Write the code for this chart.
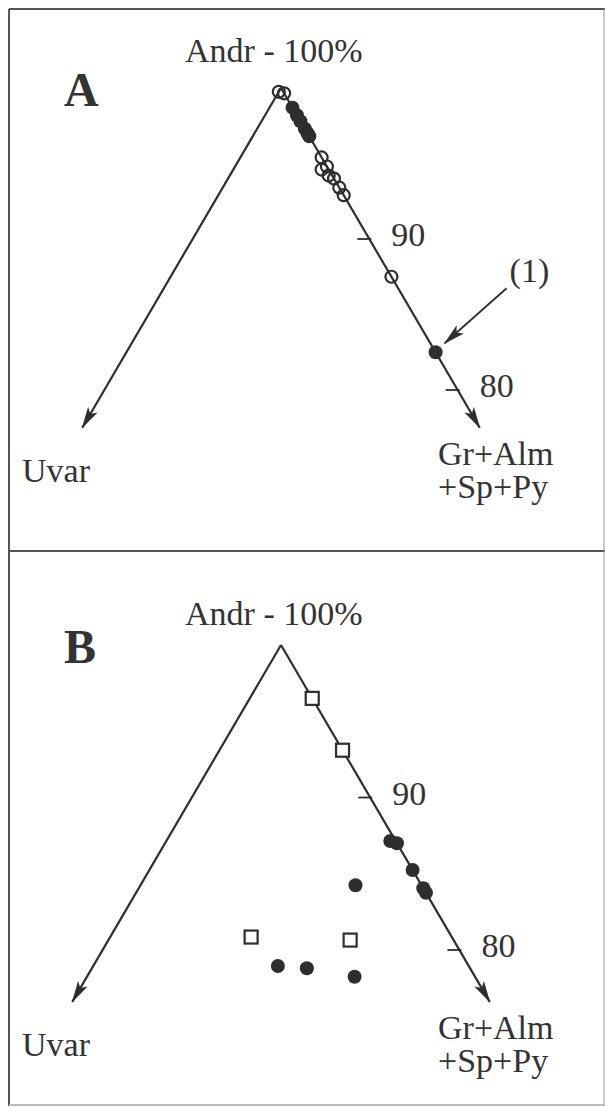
<!DOCTYPE html>
<html>
<head>
<meta charset="utf-8">
<script src="https://cdn.jsdelivr.net/npm/d3@7"></script>
<style>
  body { margin: 0; background: #fff; }
  svg text { font-family: 'Liberation Serif', 'Times New Roman', serif; fill: #333; }
</style>
</head>
<body>
<div id="wrapper"></div>
<script>
// each point: [Andr %, Uvar %]; Gr+Alm+Sp+Py is the rest up to 100
const panelAOpen = [
  [99.75, 0.25], [99.65, 0],
  [95.4, 0], [94.6, 0.4], [94.8, 0], [94.2, 0.2], [94.0, 0],
  [93.4, 0], [92.9, 0], [87.5, 0],
];
const panelAFilled = [
  [98.7, 0], [98.2, 0], [97.8, 0], [97.3, 0], [97.0, 0], [96.8, 0], [82.5, 0],
];
const panelBSquares = [
  [96.5, 0], [93.1, 0], [80.85, 11.25], [80.65, 5.8],
];
const panelBFilled = [
  [87.15, 0.3], [87.0, 0], [85.25, 0], [84.05, 0], [83.75, 0],
  [84.25, 3.7], [78.95, 10.7], [78.8, 9.15], [78.25, 6.75],
];
const tickValues = [90, 80];
const apexLabel = 'Andr - 100%';
const leftLabel = 'Uvar';
const rightLabel = ['Gr+Alm', '+Sp+Py'];
const noteLabel = '(1)';
const notePoint = [82.5, 0];

const ink = '#2e2e2e';
const width = 605;
const height = 1108;

const svg = d3
  .select('#wrapper')
  .append('svg')
  .attr('width', width)
  .attr('height', height);

svg.append('rect').attr('width', width).attr('height', height).attr('fill', '#fff');

const defs = svg.append('defs');
defs
  .append('marker')
  .attr('id', 'arrow')
  .attr('viewBox', '0 -6 22 12')
  .attr('markerUnits', 'userSpaceOnUse')
  .attr('markerWidth', 22)
  .attr('markerHeight', 12)
  .attr('refX', 21)
  .attr('refY', 0)
  .attr('orient', 'auto')
  .append('path')
  .attr('d', 'M0,-5.5 L22,0 L0,5.5 L5,0 Z')
  .attr('fill', ink);

// Frame
const frame = svg.append('g').attr('stroke', '#555').attr('stroke-width', 2);
frame.append('line').attr('x1', 9).attr('x2', 605).attr('y1', 9).attr('y2', 9);
frame.append('line').attr('x1', 9).attr('x2', 9).attr('y1', 9).attr('y2', 1106);
frame.append('line').attr('x1', 9).attr('x2', 605).attr('y1', 551).attr('y2', 551);
frame.append('line').attr('x1', 9).attr('x2', 605).attr('y1', 1105).attr('y2', 1105).attr('stroke', '#bbb');
frame.append('line').attr('x1', 604).attr('x2', 604).attr('y1', 9).attr('y2', 1105).attr('stroke', '#999').attr('stroke-width', 1);

function drawPanel(cfg) {
  const g = svg.append('g');
  const slope = 0.585;

  const yScale = d3
    .scaleLinear()
    .domain([100, 80])
    .range([cfg.apexY, cfg.apexY + 20 * cfg.pxPerPct]);
  const xScale = d3
    .scaleLinear()
    .domain([0, 20])
    .range([cfg.apexX, cfg.apexX + 20 * cfg.pxPerPct * slope]);

  const project = (d) => {
    const andr = d[0];
    const uvar = d[1];
    const gr = 100 - andr - uvar;
    return [xScale(gr - uvar), yScale(andr)];
  };

  const apex = project([100, 0]);
  const rightTip = project([cfg.tipAndr, 0]);
  const leftTip = project([cfg.tipAndr, 100 - cfg.tipAndr]);

  [leftTip, rightTip].forEach((tip) => {
    g.append('line')
      .attr('x1', apex[0])
      .attr('y1', apex[1])
      .attr('x2', tip[0])
      .attr('y2', tip[1])
      .attr('stroke', ink)
      .attr('stroke-width', 2.2)
      .attr('marker-end', 'url(#arrow)');
  });

  // ticks on the right side
  tickValues.forEach((t) => {
    const p = project([t, 0]);
    g.append('line')
      .attr('x1', p[0] - 12)
      .attr('x2', p[0] + 2)
      .attr('y1', p[1])
      .attr('y2', p[1])
      .attr('stroke', ink)
      .attr('stroke-width', 1.8);
    g.append('text')
      .attr('x', p[0] + 22)
      .attr('y', p[1] + 7)
      .style('font-size', '34px')
      .text(t);
  });

  // labels
  g.append('text')
    .attr('x', 64)
    .attr('y', cfg.apexY + 18)
    .style('font-size', '48px')
    .style('font-weight', 'bold')
    .text(cfg.letter);

  g.append('text')
    .attr('x', 185)
    .attr('y', cfg.apexY - cfg.topGap)
    .style('font-size', '34px')
    .text(apexLabel);

  g.append('text')
    .attr('x', 22)
    .attr('y', rightTip[1] + cfg.leftGap)
    .style('font-size', '34px')
    .text(leftLabel);

  g.append('text')
    .attr('y', rightTip[1] + 37)
    .style('font-size', '34px')
    .selectAll('tspan')
    .data(rightLabel)
    .join('tspan')
    .attr('x', 438)
    .attr('dy', (d, i) => (i === 0 ? 0 : 33))
    .text((d) => d);

  // marks
  g.selectAll('circle.open')
    .data(cfg.open)
    .join('circle')
    .attr('class', 'open')
    .attr('cx', (d) => project(d)[0])
    .attr('cy', (d) => project(d)[1])
    .attr('r', 6)
    .attr('fill', 'none')
    .attr('stroke', ink)
    .attr('stroke-width', 2.2);

  g.selectAll('circle.filled')
    .data(cfg.filled)
    .join('circle')
    .attr('class', 'filled')
    .attr('cx', (d) => project(d)[0])
    .attr('cy', (d) => project(d)[1])
    .attr('r', 7)
    .attr('fill', ink);

  g.selectAll('rect.sq')
    .data(cfg.squares)
    .join('rect')
    .attr('class', 'sq')
    .attr('x', (d) => project(d)[0] - 6.5)
    .attr('y', (d) => project(d)[1] - 6.5)
    .attr('width', 13)
    .attr('height', 13)
    .attr('fill', '#fff')
    .attr('stroke', ink)
    .attr('stroke-width', 2.2);

  return project;
}

const projectA = drawPanel({
  letter: 'A',
  apexX: 281,
  apexY: 88,
  pxPerPct: 15.1,
  tipAndr: 77.5,
  topGap: 26,
  leftGap: 54,
  open: panelAOpen,
  filled: panelAFilled,
  squares: [],
});

drawPanel({
  letter: 'B',
  apexX: 281,
  apexY: 645,
  pxPerPct: 15.25,
  tipAndr: 76.6,
  topGap: 20,
  leftGap: 54,
  open: [],
  filled: panelBFilled,
  squares: panelBSquares,
});

// note (1) with its arrow
const np = projectA(notePoint);
svg
  .append('line')
  .attr('x1', np[0] + 71)
  .attr('y1', np[1] - 64)
  .attr('x2', np[0] + 9)
  .attr('y2', np[1] - 9)
  .attr('stroke', ink)
  .attr('stroke-width', 1.8)
  .attr('marker-end', 'url(#arrow)');

svg
  .append('text')
  .attr('x', np[0] + 74)
  .attr('y', np[1] - 70)
  .style('font-size', '34px')
  .text(noteLabel);
</script>
</body>
</html>
